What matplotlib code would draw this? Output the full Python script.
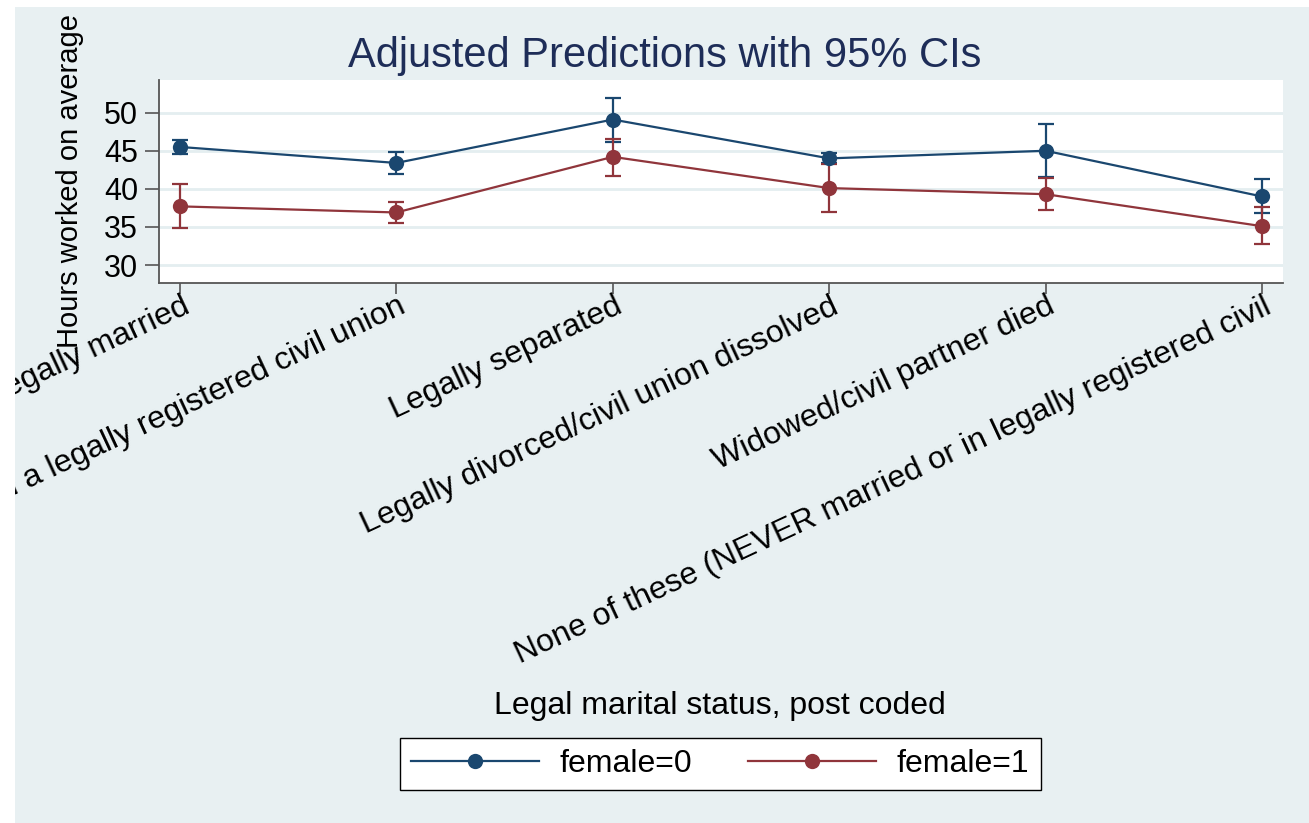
import matplotlib
matplotlib.use("Agg")
import matplotlib.pyplot as plt
from matplotlib.patches import Rectangle
from matplotlib.lines import Line2D
from matplotlib.transforms import Bbox, TransformedBbox, ScaledTranslation
import numpy as np

# ---- data ----
categories = [
    "Legally married",
    "In a legally registered civil union",
    "Legally separated",
    "Legally divorced/civil union dissolved",
    "Widowed/civil partner died",
    "None of these (NEVER married or in legally registered civil",
]
male_mean = [45.5, 43.4, 49.1, 44.0, 45.0, 39.0]
male_lo = [44.6, 42.0, 46.2, 43.4, 41.6, 36.8]
male_hi = [46.4, 44.8, 51.9, 44.7, 48.5, 41.3]
female_mean = [37.7, 36.9, 44.2, 40.1, 39.3, 35.1]
female_lo = [34.8, 35.5, 41.7, 37.0, 37.2, 32.7]
female_hi = [40.6, 38.3, 46.6, 43.3, 41.4, 37.6]
series_labels = ["female=0", "female=1"]
yticks = [30, 35, 40, 45, 50]

# ---- style ----
W, H = 1309, 823
BG = "#e8f0f2"
GRID = "#e4eef0"
NAVY = "#1a476f"
MAROON = "#90353b"
TITLE_C = "#1e2d58"
FONT = "Liberation Sans"

plt.rcParams["font.family"] = [FONT, "DejaVu Sans"]

fig = plt.figure(figsize=(W / 100, H / 100), dpi=100, facecolor="white")
bg = Rectangle((15 / W, 0), 1 - 15 / W, 1 - 7 / H, transform=fig.transFigure,
               facecolor=BG, edgecolor="none", zorder=-10)
fig.patches.append(bg)

ax = fig.add_axes([159 / W, 1 - 283 / H, (1283 - 159) / W, (283 - 80) / H])
ax.set_facecolor("white")

x = np.arange(1, len(categories) + 1)

def draw(mean, lo, hi, color):
    mean = np.array(mean); lo = np.array(lo); hi = np.array(hi)
    ax.errorbar(x, mean, yerr=[mean - lo, hi - mean], fmt="none", ecolor=color,
                elinewidth=1.6, capsize=5.8, capthick=1.6, zorder=3)
    ln, = ax.plot(x, mean, "-o", color=color, lw=1.6, markersize=11,
                  markeredgewidth=0, zorder=4)
    return ln

l1 = draw(male_mean, male_lo, male_hi, NAVY)
l2 = draw(female_mean, female_lo, female_hi, MAROON)

ax.set_xlim(1 - 0.097, len(categories) + 0.097)
ax.set_ylim(27.64, 54.29)
ax.set_yticks(yticks)
ax.set_yticklabels([str(t) for t in yticks], fontsize=22)
ax.yaxis.grid(True, color=GRID, lw=2)
ax.set_axisbelow(True)

for s in ["top", "right"]:
    ax.spines[s].set_visible(False)
for s in ["left", "bottom"]:
    ax.spines[s].set_color("#555555")
    ax.spines[s].set_linewidth(1.3)

ax.tick_params(axis="y", length=10, width=1.2, color="#555555", pad=5)
ax.tick_params(axis="x", length=8, width=1.2, color="#555555", pad=1)

ax.set_xticks(x)
ax.set_xticklabels(categories, fontsize=23, rotation=25, ha="right", va="top",
                   rotation_mode="anchor")
clip = TransformedBbox(Bbox.from_extents(15 / W, 0, 1, 1 - 7 / H), fig.transFigure)
off = ScaledTranslation(1 / 72, 3 / 72, fig.dpi_scale_trans)
for lab in ax.get_xticklabels():
    lab.set_clip_on(True)
    lab.set_clip_box(clip)
    lab.set_transform(lab.get_transform() + off)

fig.text(70 / W, 1 - 181.5 / H, "Hours worked on average", rotation=90,
         ha="center", va="center", fontsize=21, color="black")

fig.text(665 / W, 1 - 56 / H, "Adjusted Predictions with 95% CIs",
         ha="center", va="center", fontsize=30, color=TITLE_C)

fig.text(720 / W, 1 - 706 / H, "Legal marital status, post coded",
         ha="center", va="center", fontsize=23, color="black")

h1 = Line2D([], [], color=NAVY, lw=1.6, marker="o", markersize=11, markeredgewidth=0)
h2 = Line2D([], [], color=MAROON, lw=1.6, marker="o", markersize=11, markeredgewidth=0)
leg = fig.legend([h1, h2], series_labels, loc="center",
                 bbox_to_anchor=(720.5 / W, 1 - 764 / H), ncol=2, fontsize=23,
                 frameon=True, fancybox=False, edgecolor="black", framealpha=1,
                 handlelength=4.0, handletextpad=0.65, columnspacing=1.75,
                 borderpad=0.35, borderaxespad=0)
leg.get_frame().set_linewidth(1.0)

fig.savefig("out.png", dpi=100, facecolor="white")
